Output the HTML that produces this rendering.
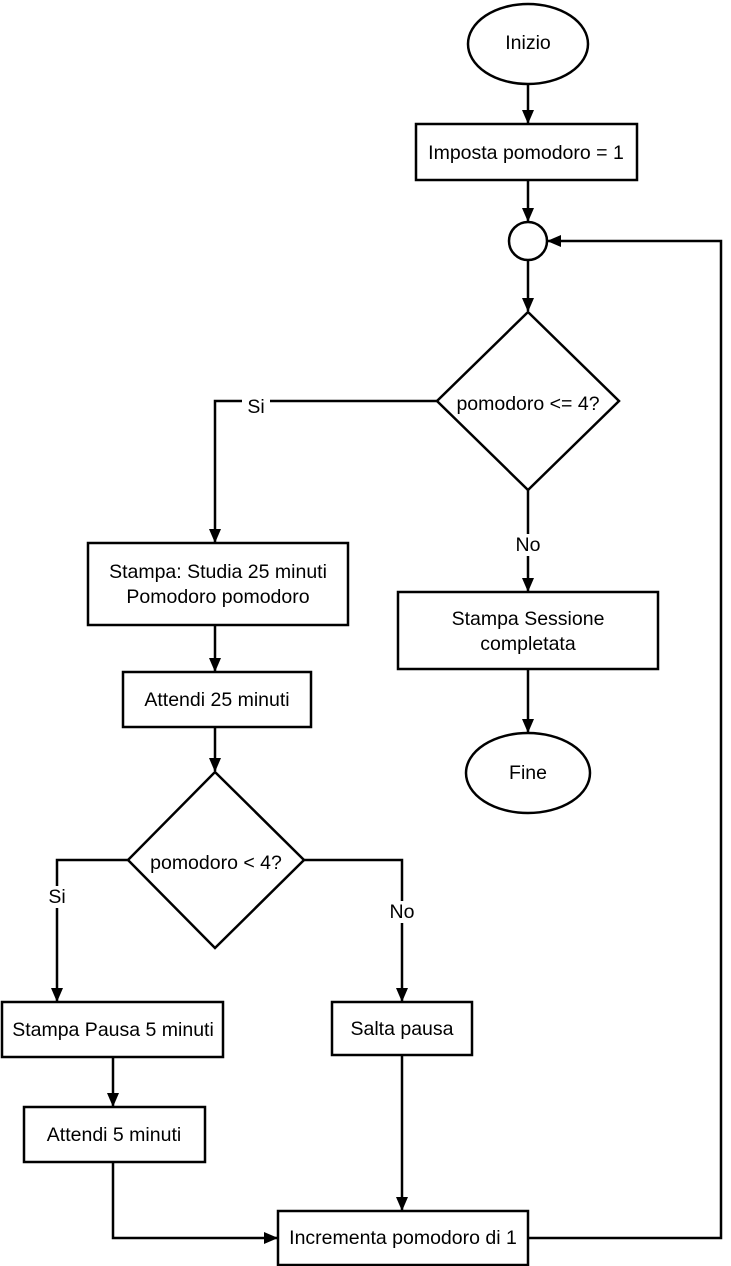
<!DOCTYPE html>
<html><head><meta charset="utf-8"><style>
html,body{margin:0;padding:0;background:#fff}
svg{display:block}
text{font-family:"Liberation Sans",sans-serif;font-size:19.5px;fill:#000;text-anchor:middle;dominant-baseline:central}
</style></head><body>
<svg width="731" height="1266" viewBox="0 0 731 1266" xmlns="http://www.w3.org/2000/svg">
<defs><marker id="a" markerWidth="14" markerHeight="12" refX="13" refY="6" orient="auto" markerUnits="userSpaceOnUse"><path d="M0,0 L14,6 L0,12 z" fill="#000"/></marker></defs>
<g fill="none" stroke="#000" stroke-width="2.5">
<ellipse cx="528" cy="44" rx="60" ry="40"/>
<rect x="416" y="124" width="221" height="56"/>
<circle cx="528" cy="241" r="19"/>
<polygon points="528,312 619,401 528,490 437,401"/>
<rect x="88" y="543" width="260" height="82"/>
<rect x="398" y="592" width="260" height="77"/>
<ellipse cx="528" cy="773" rx="62" ry="40"/>
<rect x="123" y="672" width="188" height="55"/>
<polygon points="215,772 304,860 215,948 128,860"/>
<rect x="2" y="1002" width="221" height="55"/>
<rect x="332" y="1002" width="140" height="53"/>
<rect x="24" y="1107" width="181" height="55"/>
<rect x="278" y="1211" width="250" height="54"/>
</g>
<g fill="none" stroke="#000" stroke-width="2.5" marker-end="url(#a)">
<line x1="528" y1="84" x2="528" y2="123"/>
<line x1="528" y1="180" x2="528" y2="221"/>
<polyline points="528,1238 721,1238 721,241 548,241"/>
<line x1="528" y1="260" x2="528" y2="311"/>
<polyline points="437,401 215,401 215,542"/>
<line x1="528" y1="490" x2="528" y2="591"/>
<line x1="528" y1="669" x2="528" y2="732"/>
<line x1="215" y1="625" x2="215" y2="671"/>
<line x1="215" y1="727" x2="215" y2="771"/>
<polyline points="128,860 57,860 57,1001"/>
<polyline points="304,860 402,860 402,1001"/>
<line x1="113" y1="1057" x2="113" y2="1106"/>
<polyline points="113,1162 113,1238 277,1238"/>
<line x1="402" y1="1055" x2="402" y2="1210"/>
</g>
<rect x="242" y="395" width="28" height="22" fill="#fff"/>
<text x="256" y="407">Si</text>
<rect x="511" y="534" width="34" height="22" fill="#fff"/>
<text x="528" y="545">No</text>
<rect x="44" y="886" width="26" height="22" fill="#fff"/>
<text x="57" y="897">Si</text>
<rect x="385" y="901" width="34" height="22" fill="#fff"/>
<text x="402" y="912">No</text>
<text x="528" y="43">Inizio</text>
<text x="526" y="153">Imposta pomodoro = 1</text>
<text x="528" y="404">pomodoro &lt;= 4?</text>
<text x="218" y="572">Stampa: Studia 25 minuti</text>
<text x="218" y="597">Pomodoro pomodoro</text>
<text x="528" y="619">Stampa Sessione</text>
<text x="528" y="644">completata</text>
<text x="528" y="773">Fine</text>
<text x="217" y="700">Attendi 25 minuti</text>
<text x="216" y="863">pomodoro &lt; 4?</text>
<text x="113" y="1030">Stampa Pausa 5 minuti</text>
<text x="402" y="1029">Salta pausa</text>
<text x="114" y="1135">Attendi 5 minuti</text>
<text x="403" y="1238">Incrementa pomodoro di 1</text>
</svg>
</body></html>
